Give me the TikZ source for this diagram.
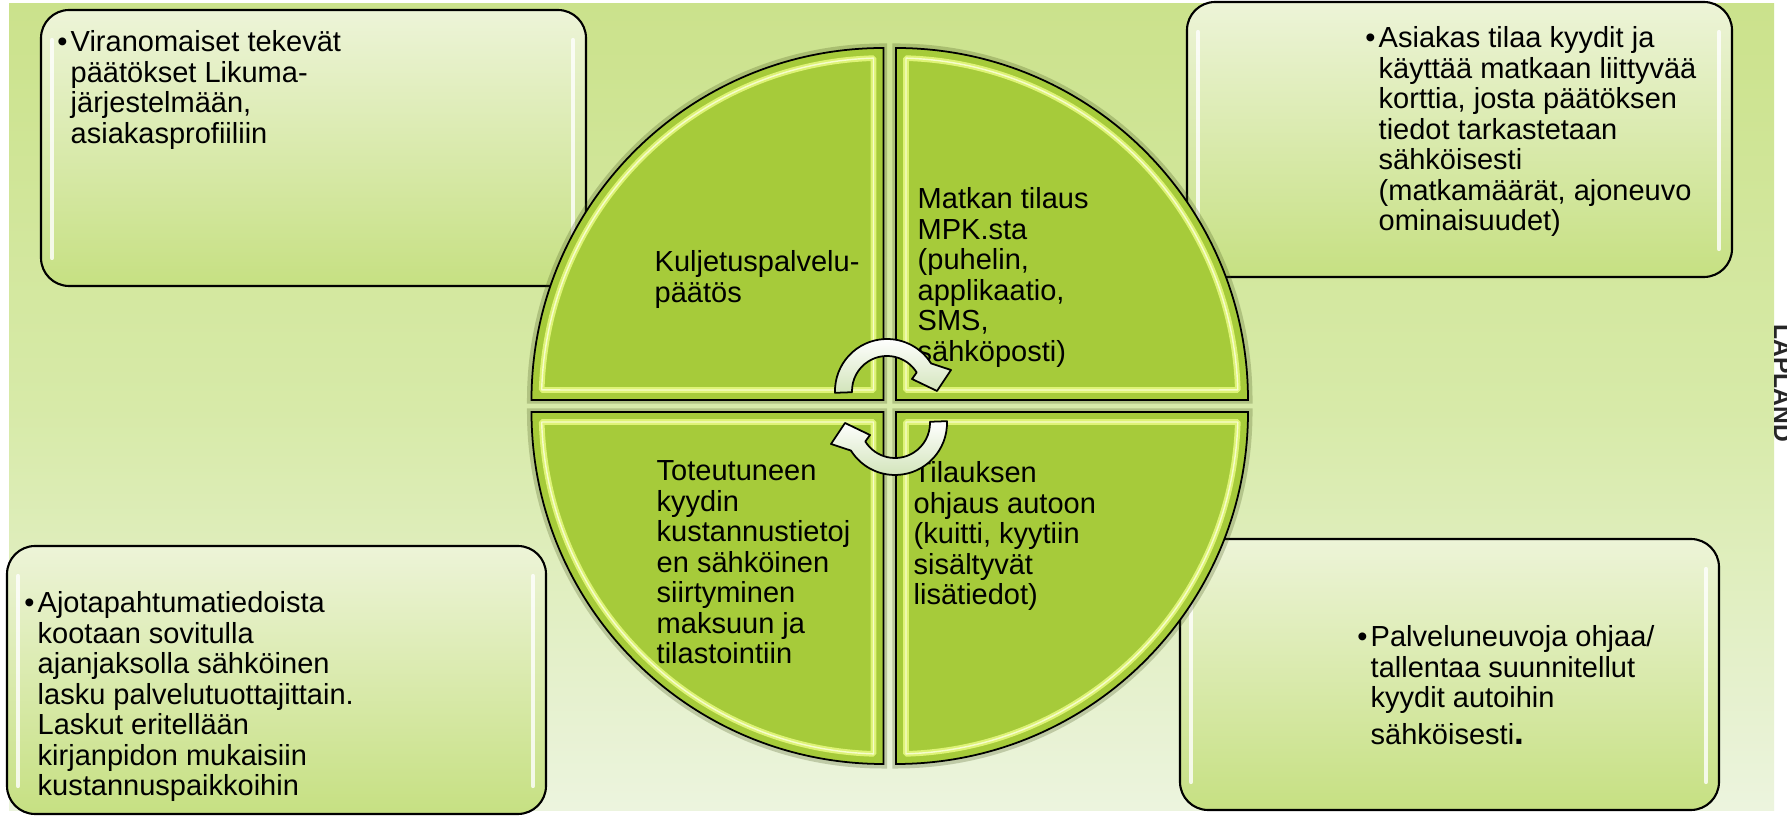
\documentclass[tikz,border=0pt]{standalone}
\usepackage{fontspec}
\setmainfont{Liberation Sans}
\usepackage{xcolor}
\usepackage{tikz}
\definecolor{bgtop}{RGB}{203,226,140}
\definecolor{bgmid}{RGB}{215,234,168}
\definecolor{bgbot}{RGB}{236,244,222}
\definecolor{boxtop}{RGB}{237,244,216}
\definecolor{boxbot}{RGB}{198,224,130}
\definecolor{quadgreen}{RGB}{166,203,58}
\definecolor{quadlight}{RGB}{222,243,118}
\definecolor{quadshine}{RGB}{246,252,205}
\definecolor{arrowfill}{RGB}{210,228,186}

\begin{document}
\begin{tikzpicture}[x=0.01cm, y=-0.01cm,
  infobox/.style={draw=black, line width=0.6pt, rounded corners=8pt, top color=boxtop, bottom color=boxbot},
  gloss/.style={white, line width=1.2pt, opacity=0.8, line cap=round},
  boxtext/.style={anchor=north west, inner sep=0pt, align=left, font=\fontsize{8.25pt}{8.68pt}\selectfont},
  quadrant/.style={fill=quadgreen, draw=black, line width=0.5pt},
  quadhalo/.style={draw=black!60!quadgreen, line width=2pt, opacity=0.25},
  cyclearrow/.style={draw=black, line width=0.5pt, line join=round, top color=white, bottom color=arrowfill}]
% Page
\useasboundingbox (0,0) rectangle (1787,816);
\clip (0,0) rectangle (1787,816);
\fill[white] (0,0) rectangle (1787,816);
% Background
\fill[top color=bgtop, bottom color=bgbot, middle color=bgmid] (9,4) rectangle (1774,811);
% Corner boxes
\foreach \xa/\ya/\xb/\yb in {41/10/586/286, 1187/2/1732/277, 7/546/546/814, 1180/539/1719/810}{
  \draw[infobox] (\xa,\ya) rectangle (\xb,\yb);
  \draw[gloss] (\xa+11,\ya+30) -- (\xa+11,\yb-28);
  \draw[gloss] (\xb-13,\ya+30) -- (\xb-13,\yb-28);
}
% Quarter circles
\foreach \cx/\cy/\sx/\sy in {883.5/400/1/1, 896/400/-1/1, 883.5/412/1/-1, 896/412/-1/-1}{
  \begin{scope}[shift={(\cx,\cy)}, xscale=\sx, yscale=\sy]
    \draw[quadhalo] (0,0) -- (0,-353) arc[start angle=-90, end angle=-180, radius=353] -- cycle;
    \draw[quadrant] (0,0) -- (0,-352) arc[start angle=-90, end angle=-180, radius=352] -- cycle;
    \draw[quadlight, line width=1.6pt, line join=bevel] (-10,-10) -- (-10,-341.85) arc[start angle=-91.68, end angle=-178.32, radius=342] -- cycle;
    \draw[quadshine, line width=0.4pt, line join=bevel] (-10,-10) -- (-10,-341.85) arc[start angle=-91.68, end angle=-178.32, radius=342] -- cycle;
  \end{scope}
}
% Box texts
\node[boxtext] (viranom) at (70,29.6) {\strut\llap{•\hspace{0.9pt}}Viranomaiset tekevät\\päätökset Likuma-\\järjestelmään,\\asiakasprofiiliin};
\node[boxtext] (asiakas) at (1378,25.6) {\strut\llap{•\hspace{0.9pt}}Asiakas tilaa kyydit ja\\käyttää matkaan liittyvää\\korttia, josta päätöksen\\tiedot tarkastetaan\\sähköisesti\\(matkamäärät, ajoneuvo\\ominaisuudet)};
\node[boxtext] (ajotap) at (37,590.6) {\strut\llap{•\hspace{0.9pt}}Ajotapahtumatiedoista\\kootaan sovitulla\\ajanjaksolla sähköinen\\lasku palvelutuottajittain.\\Laskut eritellään\\kirjanpidon mukaisiin\\kustannuspaikkoihin};
\node[boxtext] (neuvoja) at (1370,624.6) {\strut\llap{•\hspace{0.9pt}}Palveluneuvoja ohjaa/\\tallentaa suunnitellut\\kyydit autoihin\\[1.7pt]sähköisesti{\fontsize{10pt}{10pt}\selectfont\bfseries .}};
% Circle texts
\node[boxtext] (kuljetus) at (654,249.6) {\strut Kuljetuspalvelu-\\päätös};
\node[boxtext] (tilaus) at (917,186.6) {\strut Matkan tilaus\\MPK.sta\\(puhelin,\\applikaatio,\\SMS,\\sähköposti)};
\node[boxtext] (toteutunut) at (656,458.6) {\strut Toteutuneen\\kyydin\\kustannustietoj\\en sähköinen\\siirtyminen\\maksuun ja\\tilastointiin};
\node[boxtext] (ohjaus) at (913,460.6) {\strut Tilauksen\\ohjaus autoon\\(kuitti, kyytiin\\sisältyvät\\lisätiedot)};
% Cycle arrows
\begin{scope}[shift={(887,391)}]
  \draw[cyclearrow] (-182:52) arc[start angle=-182, end angle=-32, radius=52] -- (64,-21) -- (50,0) -- (25,-12) -- (-32:35) arc[start angle=-32, end angle=-182, radius=35] -- cycle;
\end{scope}
\begin{scope}[shift={(895,423)}, rotate=180]
  \draw[cyclearrow] (-182:52) arc[start angle=-182, end angle=-32, radius=52] -- (64,-21) -- (50,0) -- (25,-12) -- (-32:35) arc[start angle=-32, end angle=-182, radius=35] -- cycle;
\end{scope}
% Side label
\node[rotate=-90, anchor=base, inner sep=0pt, text=black!85, font=\bfseries\fontsize{7pt}{7pt}\selectfont] (lapland) at (1774,383.5) {LAPLAND};
\end{tikzpicture}
\end{document}
